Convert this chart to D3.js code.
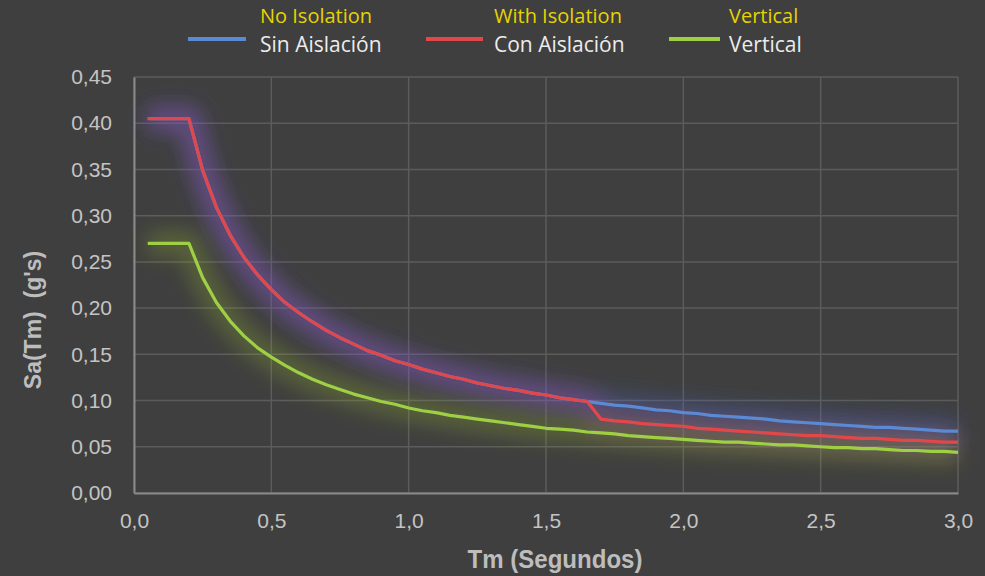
<!DOCTYPE html>
<html>
<head>
<meta charset="utf-8">
<script src="https://cdn.jsdelivr.net/npm/d3@7"></script>
<style>
  html, body { margin: 0; padding: 0; background: #3f3f3f; }
  svg { display: block; }
</style>
</head>
<body>
<svg id="chart" width="985" height="576"></svg>
<script>
// ---- data ----
const periods = [0.05,0.10,0.15,0.20,0.25,0.30,0.35,0.40,0.45,0.50,0.55,0.60,0.65,0.70,0.75,0.80,0.85,0.90,0.95,1.00,
  1.05,1.10,1.15,1.20,1.25,1.30,1.35,1.40,1.45,1.50,1.55,1.60,1.65,1.70,1.75,1.80,1.85,1.90,1.95,2.00,
  2.05,2.10,2.15,2.20,2.25,2.30,2.35,2.40,2.45,2.50,2.55,2.60,2.65,2.70,2.75,2.80,2.85,2.90,2.95,3.00];

const sinAislacion = [0.405,0.405,0.405,0.405,0.349,0.309,0.279,0.255,0.236,0.220,0.206,0.195,0.185,0.176,0.168,0.161,0.154,0.149,0.143,0.139,
  0.134,0.130,0.126,0.123,0.119,0.116,0.113,0.111,0.108,0.106,0.103,0.101,0.099,0.097,0.095,0.094,0.092,0.090,0.089,0.087,
  0.086,0.084,0.083,0.082,0.081,0.080,0.078,0.077,0.076,0.075,0.074,0.073,0.072,0.071,0.071,0.070,0.069,0.068,0.067,0.067];

const conAislacion = [0.405,0.405,0.405,0.405,0.349,0.309,0.279,0.255,0.236,0.220,0.206,0.195,0.185,0.176,0.168,0.161,0.154,0.149,0.143,0.139,
  0.134,0.130,0.126,0.123,0.119,0.116,0.113,0.111,0.108,0.106,0.103,0.101,0.099,0.080,0.078,0.077,0.075,0.074,0.073,0.072,
  0.070,0.069,0.068,0.067,0.066,0.065,0.064,0.063,0.062,0.062,0.061,0.060,0.059,0.059,0.058,0.057,0.057,0.056,0.055,0.055];

const vertical = [0.270,0.270,0.270,0.270,0.233,0.206,0.186,0.170,0.157,0.147,0.138,0.130,0.123,0.117,0.112,0.107,0.103,0.099,0.096,0.092,
  0.089,0.087,0.084,0.082,0.080,0.078,0.076,0.074,0.072,0.070,0.069,0.068,0.066,0.065,0.064,0.062,0.061,0.060,0.059,0.058,
  0.057,0.056,0.055,0.055,0.054,0.053,0.052,0.052,0.051,0.050,0.049,0.049,0.048,0.048,0.047,0.046,0.046,0.045,0.045,0.044];

const seriesNames = ["Sin Aislación", "Con Aislación", "Vertical"];
const seriesNamesEn = ["No Isolation", "With Isolation", "Vertical"];
const seriesColors = ["#5b8ad4", "#e2474a", "#9fd043"];
const glowColors = ["#3a6ec8", "#b048b0", "#8fb030"];

const xTicks = [0, 0.5, 1.0, 1.5, 2.0, 2.5, 3.0];
const yTicks = [0, 0.05, 0.10, 0.15, 0.20, 0.25, 0.30, 0.35, 0.40, 0.45];
const xTitle = "Tm (Segundos)";
const yTitle = "Sa(Tm)  (g's)";

// ---- chart ----
const svg = d3.select("#chart");
const x = d3.scaleLinear().domain([0, 3]).range([134, 958]);
const y = d3.scaleLinear().domain([0, 0.45]).range([493, 77]);

const fmt = (d, n) => d3.format("." + n + "f")(d).replace(".", ",");

const defs = svg.append("defs");
defs.append("filter").attr("id", "glow")
  .attr("x", "-20%").attr("y", "-60%").attr("width", "140%").attr("height", "220%")
  .append("feGaussianBlur").attr("stdDeviation", 10);

// grid
svg.append("g").selectAll("line").data(yTicks).join("line")
  .attr("x1", x(0)).attr("x2", x(3))
  .attr("y1", d => y(d)).attr("y2", d => y(d))
  .attr("stroke", "#5c5c5c").attr("stroke-width", 1.5);
svg.append("g").selectAll("line").data(xTicks).join("line")
  .attr("x1", d => x(d)).attr("x2", d => x(d))
  .attr("y1", y(0)).attr("y2", y(0.45))
  .attr("stroke", "#5c5c5c").attr("stroke-width", 1.5);

// axes (d3 axes, styled)
const yAxis = svg.append("g").attr("transform", `translate(${x(0)},0)`)
  .call(d3.axisLeft(y).tickValues(yTicks).tickSize(0).tickPadding(22).tickFormat(d => fmt(d, 2)));
const xAxis = svg.append("g").attr("transform", `translate(0,${y(0)})`)
  .call(d3.axisBottom(x).tickValues(xTicks).tickSize(0).tickPadding(23).tickFormat(d => fmt(d, 1)));
[yAxis, xAxis].forEach(a => {
  a.select(".domain").attr("stroke", "#8a8a8a").attr("stroke-width", 2);
  a.selectAll("text").attr("fill", "#c4c4c4")
    .style("font-family", "'Liberation Sans', Arial, sans-serif").style("font-size", "21px");
});
xAxis.selectAll("text").attr("dy", "0.55em");

// series
const seriesData = [sinAislacion, conAislacion, vertical];
const line = d3.line().x((d, i) => x(periods[i])).y(d => y(d));
const plot = svg.append("g");
seriesData.forEach((vals, k) => {
  plot.append("path").datum(vals).attr("d", line)
    .attr("fill", "none").attr("stroke", glowColors[k]).attr("stroke-width", 24)
    .attr("stroke-opacity", 0.32).attr("stroke-linejoin", "round").attr("filter", "url(#glow)");
});
seriesData.forEach((vals, k) => {
  plot.append("path").datum(vals).attr("d", line)
    .attr("fill", "none").attr("stroke", seriesColors[k]).attr("stroke-width", 3.2)
    .attr("stroke-linejoin", "round");
});

// titles
svg.append("text").attr("transform", "translate(555,568) scale(1,1.12)").attr("text-anchor", "middle")
  .attr("fill", "#bdbdbd").style("font-family", "'Liberation Sans', Arial, sans-serif")
  .style("font-weight", "bold").style("font-size", "23px")
  .attr("textLength", 175).attr("lengthAdjust", "spacingAndGlyphs").text(xTitle);
svg.append("text").attr("transform", "translate(41,320) rotate(-90)").attr("text-anchor", "middle")
  .attr("fill", "#bdbdbd").style("font-family", "'Liberation Sans', Arial, sans-serif")
  .style("font-weight", "bold").style("font-size", "23px").style("white-space", "pre").text(yTitle);

// legend
const swatchX = [188, 426, 669];
const swatchW = [58, 57, 51];
const textX = [260, 494, 729];
const leg = svg.append("g");
seriesNames.forEach((name, k) => {
  leg.append("line").attr("x1", swatchX[k]).attr("x2", swatchX[k] + swatchW[k]).attr("y1", 39).attr("y2", 39)
    .attr("stroke", seriesColors[k]).attr("stroke-width", 4);
  leg.append("text").attr("x", textX[k]).attr("y", 23).attr("fill", "#e6d400")
    .style("font-family", "'Open Sans', sans-serif").style("font-size", "20px").text(seriesNamesEn[k]);
  leg.append("text").attr("x", textX[k]).attr("y", 52).attr("fill", "#ececec")
    .style("font-family", "'Open Sans', sans-serif").style("font-size", "21px").text(name);
});
</script>
</body>
</html>
